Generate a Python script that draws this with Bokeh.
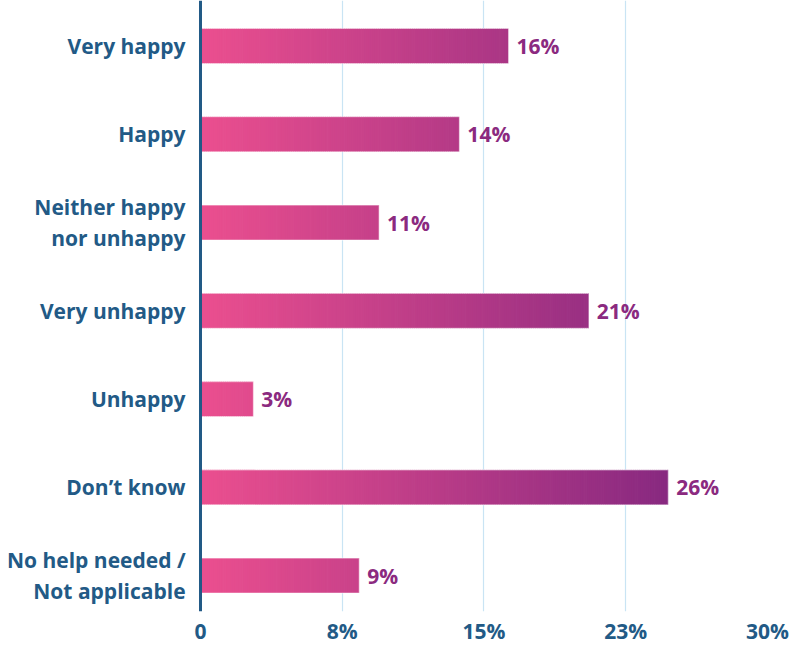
from bokeh.plotting import figure
from bokeh.models import Range1d, FixedTicker, Span, ColumnDataSource
from bokeh.core.properties import value
from bokeh.embed import file_html
from bokeh.resources import INLINE

# ---- data ----
categories = ["Very happy", "Happy", "Neither happy\nnor unhappy", "Very unhappy",
              "Unhappy", "Don\u2019t know", "No help needed /\nNot applicable"]
values = [16.3, 13.7, 9.45, 20.55, 2.8, 24.75, 8.4]
value_labels = ["16%", "14%", "11%", "21%", "3%", "26%", "9%"]
tick_values = [0, 7.5, 15, 22.5, 30]
tick_labels = ["0", "8%", "15%", "23%", "30%"]

FONT = "Open Sans"
BLUE = "#225A86"
PURPLE = "#8B2A80"
C0 = (0xEB, 0x4F, 0x8F)
C1 = (0x88, 0x29, 0x80)

n = len(categories)
ypos = [n - 1 - i for i in range(n)]

p = figure(width=791, height=647, output_backend="svg", toolbar_location=None,
           x_range=Range1d(-10.582, 30), y_range=Range1d(-0.4065, 6.5155),
           min_border_left=0, min_border_right=24, min_border_top=0,
           min_border_bottom=20)
p.outline_line_color = None
p.background_fill_color = "white"
p.border_fill_color = "white"
p.yaxis.visible = False
p.ygrid.visible = False

# x axis
p.xaxis.ticker = FixedTicker(ticks=tick_values)
p.xaxis.major_label_overrides = {t: l for t, l in zip(tick_values, tick_labels)}
p.xaxis.axis_line_color = None
p.xaxis.major_tick_line_color = None
p.xaxis.major_tick_out = 0
p.xaxis.major_tick_in = 0
p.xaxis.minor_tick_line_color = None
p.xaxis.major_label_text_font = FONT
p.xaxis.major_label_text_font_style = "bold"
p.xaxis.major_label_text_font_size = "21px"
p.xaxis.major_label_text_color = BLUE
p.xaxis.major_label_standoff = 5

p.xgrid.ticker = FixedTicker(ticks=tick_values[1:])
p.xgrid.grid_line_color = "#C9E4F4"
p.xgrid.grid_line_width = 1.2

# gradient bars built from slices
vmax = max(values)
step = 0.1
L, R, T, B, C = [], [], [], [], []
bh = 0.3965
for y, v in zip(ypos, values):
    x = 0.0
    while x < v - 1e-9:
        x2 = min(x + step, v)
        t = min(1.0, ((x + x2) / 2) / vmax)
        col = "#%02x%02x%02x" % tuple(int(round(a + (b - a) * t)) for a, b in zip(C0, C1))
        L.append(x)
        R.append(min(x2 + 0.04, v))
        T.append(y + bh / 2)
        B.append(y - bh / 2)
        C.append(col)
        x = x2
p.quad(left=L, right=R, top=T, bottom=B, fill_color=C, line_color=None)
p.quad(left=[0] * n, right=values, top=[y + bh / 2 for y in ypos],
       bottom=[y - bh / 2 for y in ypos], fill_color=None,
       line_color="white", line_alpha=0.45, line_width=1.2)

# vertical axis line at zero
p.add_layout(Span(location=0, dimension="height", line_color=BLUE, line_width=3))

# value labels
src = ColumnDataSource(dict(x=[v + 0.42 for v in values], y=ypos, t=value_labels))
p.text(x="x", y="y", text="t", source=src, text_font=value(FONT),
       text_font_style="bold", text_font_size="21px", text_color=PURPLE,
       text_baseline="middle", text_align="left")

# category labels
csrc = ColumnDataSource(dict(x=[-0.79] * n, y=ypos, t=categories))
p.text(x="x", y="y", text="t", source=csrc, text_font=value(FONT),
       text_font_style="bold", text_font_size="21px", text_color=BLUE,
       text_baseline="middle", text_align="right", text_line_height=1.1)

open("out.html", "w").write(file_html(p, INLINE))
